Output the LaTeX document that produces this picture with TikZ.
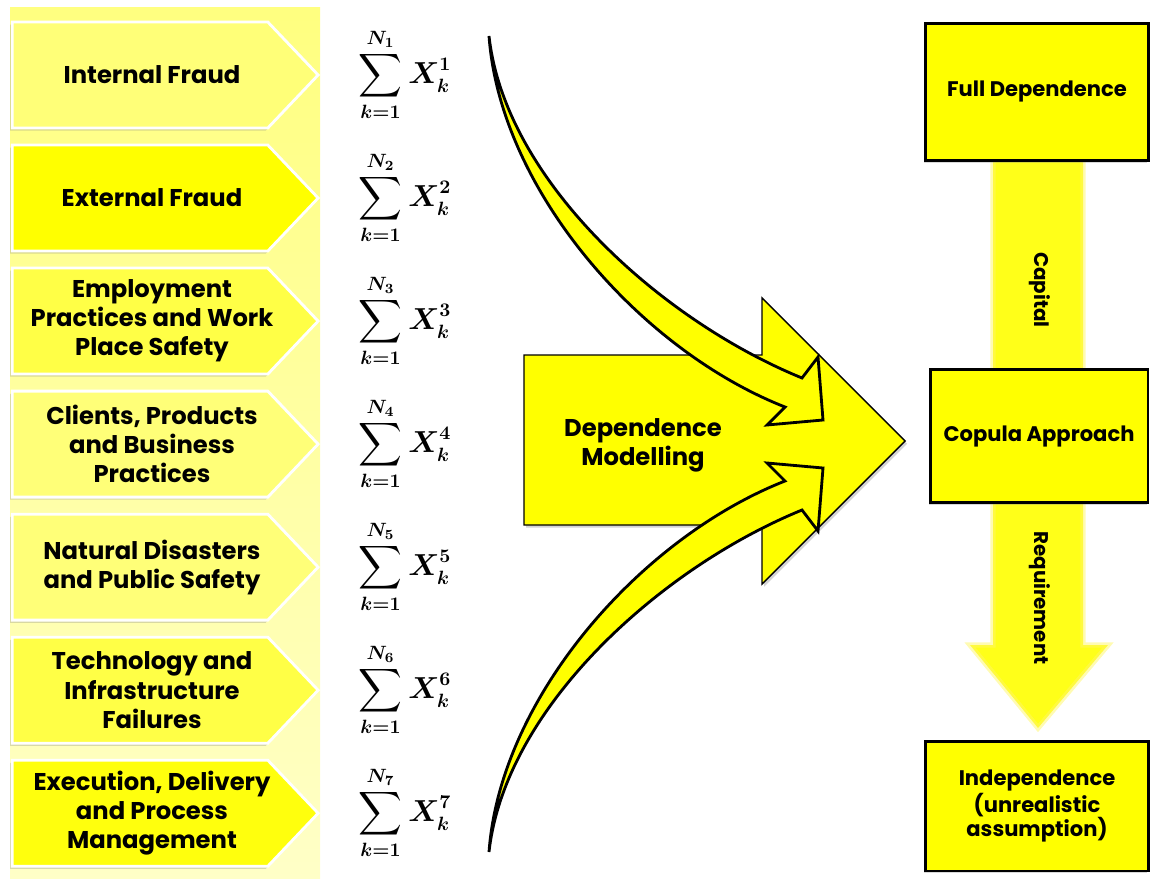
\documentclass[tikz,border=0pt]{standalone}
\usepackage{amsmath}
\usepackage[no-math]{fontspec}
\setmainfont{Poppins}
\usetikzlibrary{positioning, shapes, shadows}
\definecolor{paleY}{RGB}{255,255,120}
\definecolor{midY}{RGB}{255,255,70}
\definecolor{fullY}{RGB}{255,255,0}

\begin{document}
\begin{tikzpicture}[x=0.02cm, y=-0.02cm,
  risktext/.style={xshift=0.24cm, align=center, font=\fontsize{13.8}{16.6}\selectfont\bfseries},
  risk/.style={signal, signal to=east, signal pointer angle=93, draw=white, line width=1.6pt,
    minimum width=6.12cm, minimum height=2.12cm, inner sep=0pt,
    label={[risktext]center:#1},
    drop shadow={shadow xshift=-1.2pt, shadow yshift=-1.5pt, opacity=0.3}},
  agg/.style={font=\fontsize{16}{19}\selectfont\boldmath},
  level/.style={rectangle, draw, line width=1.7pt, fill=fullY, minimum width=4.46cm, align=center,
    font=\fontsize{12}{13.6}\selectfont\bfseries,
    drop shadow={shadow xshift=-0.8pt, shadow yshift=-1.2pt, opacity=0.3}},
  block/.style={draw, line width=0.8pt, fill=fullY, drop shadow={shadow xshift=1.2pt, shadow yshift=-1.5pt, opacity=0.35}},
  curl/.pic={
    \filldraw[line width=1.6pt, fill=fullY, line join=miter]
      (0,0) .. controls (16,144) and (171,284) .. (313,342) -- (329,321) -- (334,384)
      -- (278,389) -- (296,371) .. controls (151,314) and (11,154) .. (0,0) -- cycle;
  }]
  \useasboundingbox (0,0) rectangle (1151,878);

  % left panel
  \fill[top color=yellow!50, bottom color=yellow!22] (10,8) rectangle (320,878);

  % risk categories
  \node [risk={Internal Fraud}, fill=paleY] (int) at (140,75) {};
  \node [risk={External Fraud}, fill=fullY][below = 0.285cm of int] (ext) {};
  \node [risk={Employment\\Practices and Work\\Place Safety}, fill=midY][below = 0.285cm of ext] (emp) {};
  \node [risk={Clients, Products\\and Business\\Practices}, fill=paleY][below = 0.285cm of emp] (cli) {};
  \node [risk={Natural Disasters\\and Public Safety}, fill=paleY][below = 0.285cm of cli] (nat) {};
  \node [risk={Technology and\\Infrastructure\\Failures}, fill=midY][below = 0.285cm of nat] (tec) {};
  \node [risk={Execution, Delivery\\and Process\\Management}, fill=fullY!95!white][below = 0.285cm of tec] (exe) {};

  % aggregate losses
  \node [agg] (sum1) at (405,75) {$\displaystyle\sum_{k=1}^{N_1} X_k^1$};
  \node [agg] (sum2) at (405,198) {$\displaystyle\sum_{k=1}^{N_2} X_k^2$};
  \node [agg] (sum3) at (405,321) {$\displaystyle\sum_{k=1}^{N_3} X_k^3$};
  \node [agg] (sum4) at (405,444) {$\displaystyle\sum_{k=1}^{N_4} X_k^4$};
  \node [agg] (sum5) at (405,567) {$\displaystyle\sum_{k=1}^{N_5} X_k^5$};
  \node [agg] (sum6) at (405,690) {$\displaystyle\sum_{k=1}^{N_6} X_k^6$};
  \node [agg] (sum7) at (405,813) {$\displaystyle\sum_{k=1}^{N_7} X_k^7$};

  % dependence modelling arrow
  \draw [block] (524,355) -- (762,355) -- (762,298) -- (905,441) -- (762,584) -- (762,525) -- (524,525) -- cycle;
  \node [font=\fontsize{13.8}{16.6}\selectfont\bfseries, align=center] (dep) at (643,445) {Dependence\\Modelling};
  \pic at (489,36) {curl};
  \pic [yscale=-1] at (489,852) {curl};

  % capital scale
  \fill [fullY!90!white, draw=yellow!60, line width=3pt, draw opacity=0.5]
    (993,150) -- (1083,150) -- (1083,645) -- (1108,645) -- (1038,728) -- (970,645) -- (993,645) -- cycle;
  \node [rotate=-90, font=\fontsize{11.3}{13}\selectfont\bfseries] (cap) at (1040,290) {Capital};
  \node [rotate=-90, font=\fontsize{11.3}{13}\selectfont\bfseries] (req) at (1040,598) {Requirement};

  \node [level, minimum height=2.74cm] (full) at (1037,92) {Full Dependence};
  \node [level, minimum width=4.36cm, minimum height=2.68cm] (cop) at (1039,436) {Copula Approach};
  \node [level, minimum height=2.6cm] (ind) at (1037,806) {Independence\\(unrealistic\\assumption)};
\end{tikzpicture}
\end{document}
